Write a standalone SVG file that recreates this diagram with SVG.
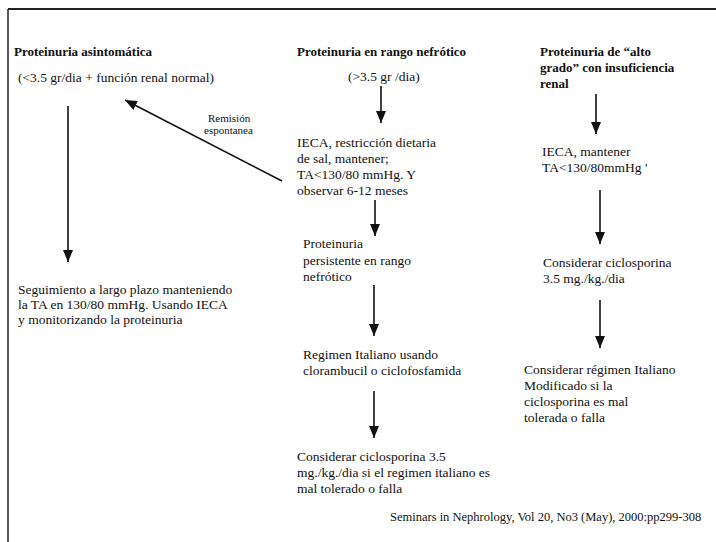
<svg xmlns="http://www.w3.org/2000/svg" width="716" height="542" viewBox="0 0 716 542">
<style>
.t{font-family:"Liberation Serif","Times New Roman",serif;font-size:13.5px;fill:#111}
.b{font-family:"Liberation Serif","Times New Roman",serif;font-size:13px;font-weight:bold;fill:#111}
.s{font-family:"Liberation Serif","Times New Roman",serif;font-size:11px;fill:#111}
.r{font-family:"Liberation Serif","Times New Roman",serif;font-size:12.5px;fill:#111}
.c{stroke:#111;stroke-width:1.6;fill:none;marker-end:url(#ah)}
.f{stroke:#222;fill:none}
</style>
<defs>
<marker id="ah" markerUnits="userSpaceOnUse" markerWidth="12" markerHeight="10" refX="12" refY="5" orient="auto">
<path d="M0,0 L12,5 L0,10 z" fill="#111"/>
</marker>
</defs>
<rect width="716" height="542" fill="#fff"/>
<g id="frame">
<line class="f" x1="8" y1="9" x2="716" y2="9" stroke-width="2"/>
<line class="f" x1="8" y1="9" x2="8" y2="542" stroke-width="1.5"/>
</g>
<g id="n-asint">
<text class="b" x="14" y="56">Proteinuria asintomática</text>
<text class="t" x="18" y="82">(&lt;3.5 gr/dia + función renal normal)</text>
</g>
<g id="n-seguimiento">
<text class="t" x="18" y="294">Seguimiento a largo plazo manteniendo</text>
<text class="t" x="18" y="309">la TA en 130/80 mmHg. Usando IECA</text>
<text class="t" x="18" y="324">y monitorizando la proteinuria</text>
</g>
<g id="n-nefrotico">
<text class="b" x="297" y="56">Proteinuria en rango nefrótico</text>
<text class="t" x="348" y="81">(&gt;3.5 gr /dia)</text>
</g>
<g id="n-ieca1">
<text class="t" x="297" y="147">IECA, restricción dietaria</text>
<text class="t" x="297" y="163">de sal, mantener;</text>
<text class="t" x="297" y="179">TA&lt;130/80 mmHg. Y</text>
<text class="t" x="297" y="195">observar 6-12 meses</text>
</g>
<g id="n-persistente">
<text class="t" x="303" y="248">Proteinuria</text>
<text class="t" x="303" y="265">persistente en rango</text>
<text class="t" x="303" y="281">nefrótico</text>
</g>
<g id="n-regimen">
<text class="t" x="303" y="359">Regimen Italiano usando</text>
<text class="t" x="303" y="375">clorambucil o ciclofosfamida</text>
</g>
<g id="n-cicloA">
<text class="t" x="297" y="461">Considerar ciclosporina 3.5</text>
<text class="t" x="297" y="477">mg./kg./dia si el regimen italiano es</text>
<text class="t" x="297" y="493">mal tolerado o falla</text>
</g>
<g id="n-alto">
<text class="b" x="540" y="56">Proteinuria de “alto</text>
<text class="b" x="540" y="72">grado” con insuficiencia</text>
<text class="b" x="540" y="88">renal</text>
</g>
<g id="n-ieca2">
<text class="t" x="542" y="156">IECA, mantener</text>
<text class="t" x="542" y="172">TA&lt;130/80mmHg  '</text>
</g>
<g id="n-cicloB">
<text class="t" x="543" y="267">Considerar ciclosporina</text>
<text class="t" x="543" y="283">3.5 mg./kg./dia</text>
</g>
<g id="n-regmod">
<text class="t" x="524" y="374">Considerar régimen Italiano</text>
<text class="t" x="524" y="390">Modificado si la</text>
<text class="t" x="524" y="406">ciclosporina es mal</text>
<text class="t" x="524" y="422">tolerada o falla</text>
</g>
<g id="n-ref">
<text class="r" x="390" y="521">Seminars in Nephrology, Vol 20, No3 (May), 2000:pp299-308</text>
</g>
<g id="connectors">
<line class="c" x1="68" y1="106" x2="68" y2="262"/>
<line class="c" x1="282" y1="181" x2="125" y2="100"/>
<text class="s" x="208" y="122">Remisión</text>
<text class="s" x="204" y="134">espontanea</text>
<line class="c" x1="381" y1="86" x2="381" y2="123"/>
<line class="c" x1="375" y1="200" x2="375" y2="236"/>
<line class="c" x1="374" y1="285" x2="374" y2="336"/>
<line class="c" x1="374" y1="391" x2="374" y2="438"/>
<line class="c" x1="596" y1="94" x2="596" y2="134"/>
<line class="c" x1="600" y1="190" x2="600" y2="244"/>
<line class="c" x1="600" y1="300" x2="600" y2="348"/>
</g>
</svg>
